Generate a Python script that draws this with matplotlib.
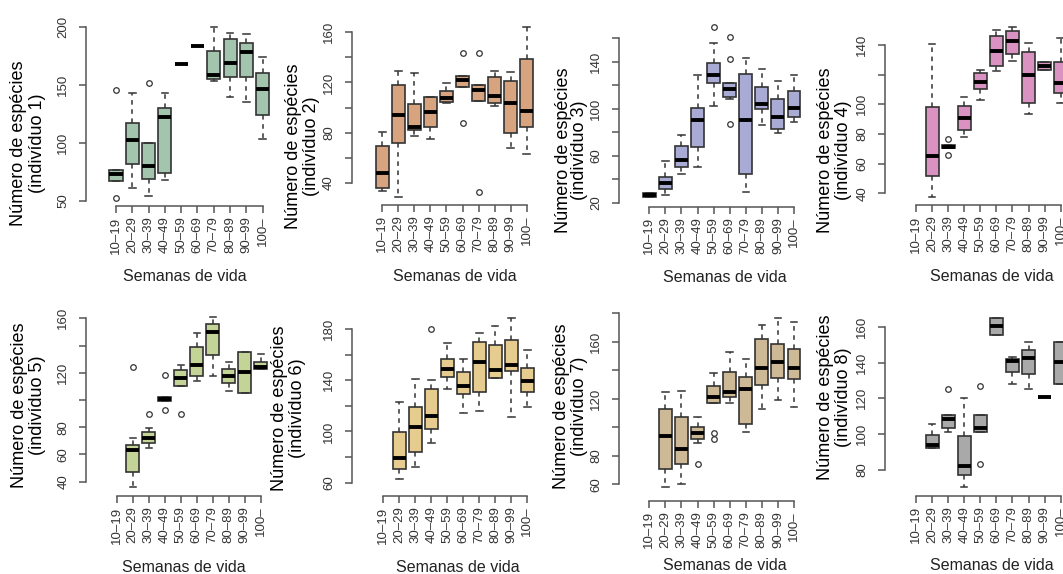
import matplotlib
matplotlib.use("Agg")
import matplotlib.pyplot as plt

plt.rcParams['font.family'] = ['Liberation Sans', 'DejaVu Sans']

semanas = ["10–19", "20–29", "30–39", "40–49", "50–59",
           "60–69", "70–79", "80–89", "90–99", "100–"]
individuos = ["1", "2", "3", "4", "5", "6", "7", "8"]
cores = ["#a3c5ad", "#d8a47f", "#aaabd4", "#d992c1",
         "#c3d496", "#e7cc8f", "#cdb995", "#a9a9a9"]

# estatísticas de cada caixa (None = sem amostras nessa classe)
bigode_inf = [
    [67.5, 60.9, 54.3, 68.1, 168, 183.7, 153.5, 139.8, 135.5, 103],
    [33.3, 28.3, 77.2, 74.6, 103.3, 116.1, 105.2, 101.2, 67.9, 62.6],
    [24.5, 26.5, 44.4, 50.6, 102.3, 108, 29.4, 86.1, 79, 89],
    [None, 37.3, 70.3, 78.2, 102.9, 122.7, 129.2, 93.3, 123.1, 101.1],
    [None, 36.3, 65, 99.3, 110.3, 114.2, 117.9, 106.6, 105.4, 122.5],
    [None, 62.6, 72, 91.2, 133.1, 114.7, 116.2, 142, 111, 119.4],
    [None, 57.9, 60, 89.2, 117.3, 117.3, 96.9, 112.6, 119.1, 114.5],
    [None, 92.1, 101.4, 70.3, 101, 155.3, 128, 125, 120.9, 127.8],
]
quartil1 = [
    [67.5, 81.6, 68.7, 73.8, 168, 183.7, 154.7, 156.4, 156.4, 124],
    [36, 71.9, 82, 84.7, 104.6, 116.1, 105.2, 103.3, 79.4, 84.7],
    [24.5, 31.3, 50.1, 67.7, 122.1, 109.6, 44.4, 99.4, 82.7, 92.6],
    [None, 51.9, 70.3, 82.7, 110.1, 126.1, 133.9, 101.1, 123.1, 107.9],
    [None, 46.8, 68.2, 99.3, 110.3, 117.6, 133.1, 112.2, 105.4, 122.5],
    [None, 70.7, 84.2, 101.9, 142.8, 129.2, 131.1, 142, 147.2, 131.1],
    [None, 70.5, 74, 91.6, 117.3, 121, 102.3, 129.6, 134.8, 133.8],
    [None, 92.1, 103.3, 77.2, 101, 155.3, 134.9, 133.6, 120.9, 127.8],
]
mediana = [
    [73.2, 102.5, 80.1, 122.6, 168, 183.7, 158.4, 169, 177.9, 146.1],
    [48, 94, 84.7, 96.7, 107.3, 121.9, 113.9, 109.2, 103.3, 97.4],
    [26.5, 36.5, 56.3, 90.4, 128.7, 116.5, 90.4, 104, 93.2, 100.9],
    [None, 65.2, 71.5, 91, 115.3, 136, 142.7, 119.8, 126.1, 114.2],
    [None, 63.3, 71.8, 101, 115.9, 125.7, 150.2, 117.6, 120.8, 124],
    [None, 79, 103.7, 112.1, 148.8, 135.8, 154, 148, 151.9, 139.4],
    [None, 93.9, 84.8, 95.8, 121, 125, 126.6, 141.8, 146, 141.3],
    [None, 94, 108.3, 82.4, 103.6, 160.4, 141, 142.3, 120.9, 140.1],
]
quartil3 = [
    [76.7, 116.8, 99.6, 130.3, 168, 183.7, 179.1, 189.1, 185.7, 159.9],
    [69.3, 117.9, 102.8, 108.6, 113.2, 125.1, 117.9, 124.1, 121.1, 138.4],
    [28.5, 42.1, 68.2, 100.9, 138.6, 122.1, 129.5, 118.7, 107.9, 115],
    [None, 98, 72.8, 98.9, 121.3, 146.1, 149.2, 135.5, 128.8, 128.8],
    [None, 66.9, 76.2, 102.4, 122, 138.7, 155.8, 122.5, 135.5, 128.2],
    [None, 99.3, 119.4, 132.9, 156.6, 146.2, 170.1, 167.5, 171.4, 149.8],
    [None, 112.6, 107, 100, 128.9, 139, 135.5, 161.7, 158.2, 154.6],
    [None, 99.5, 110.7, 99, 110.7, 165, 141.8, 147, 120.9, 151.6],
]
bigode_sup = [
    [76.7, 143.2, 99.6, 143.2, 168, 183.7, 199.4, 194.3, 193.7, 173.6],
    [80.2, 129.4, 127.2, 108.6, 119.3, 125.1, 117.9, 129.4, 128.6, 164],
    [28.5, 55.7, 77.6, 128.7, 156.2, 122.1, 142.8, 133.5, 123.8, 128.7],
    [None, 140.7, 72.8, 105.2, 123.1, 150.1, 152.4, 141.1, 128.8, 144.5],
    [None, 72.3, 79.2, 102.4, 125.7, 149, 160.7, 128.2, 135.5, 133.5],
    [None, 122.7, 140.7, 140.2, 168.8, 156.3, 176.6, 182.6, 188.3, 163.6],
    [None, 125, 125.7, 107, 138.3, 153, 147.9, 171.7, 176.4, 174],
    [None, 105.7, 110.7, 120, 110.7, 165, 143.3, 151.6, 120.9, 151.6],
]
outliers = [
    [[145.5, 52.9], [], [151.2], [], [], [], [], [], [], []],
    [[], [], [], [], [], [143.2, 87.3], [143.2, 32.7], [], [], []],
    [[], [], [], [], [169.8], [160.7, 142.3, 87], [], [], [], []],
    [[], [], [76.4, 65.8], [], [], [], [], [], [], []],
    [[], [124.5], [89.5], [118.4, 92.6], [89.5], [], [], [], [], []],
    [[], [], [], [180], [], [], [], [], [], []],
    [[], [], [], [74.3], [95.8, 91.6], [], [], [], [], []],
    [[], [], [125], [], [126.9, 83.3], [], [], [], [], []],
]

yticks = [
    [50, 100, 150, 200],
    [40, 60, 80, 100, 120, 140, 160],
    [20, 40, 60, 80, 100, 120, 140, 160],
    [40, 60, 80, 100, 120, 140],
    [40, 60, 80, 100, 120, 140, 160],
    [60, 80, 100, 120, 140, 160, 180],
    [60, 80, 100, 120, 140, 160, 180],
    [80, 100, 120, 140, 160],
]
ylabels = [
    ["50", "100", "150", "200"],
    ["40", "", "80", "", "120", "", "160"],
    ["20", "", "60", "", "100", "", "140", ""],
    ["40", "60", "80", "100", "", "140"],
    ["40", "60", "80", "", "120", "", "160"],
    ["60", "", "100", "", "140", "", "180"],
    ["60", "80", "", "120", "", "160", ""],
    ["80", "100", "120", "140", "160"],
]

W, H = 1063, 574
fig = plt.figure(figsize=(W / 100, H / 100), dpi=100)

# layout em pixels: x do eixo y, (valor, px) de referência x2, y do eixo x,
# x da primeira e da última classe, topo da área
layout = [
    (86, 200, 26.7, 50, 201, 206, 116, 262.7, 10),
    (351.7, 160, 32.3, 40, 182.7, 204.7, 382.3, 526.7, 10),
    (619, 140, 61.7, 20, 202.7, 206.7, 649.3, 794, 10),
    (885, 140, 45, 40, 193.3, 205, 916, 1060.7, 10),
    (86, 160, 318.3, 40, 481.7, 496, 116.7, 260.7, 300),
    (351.7, 180, 329, 60, 482.7, 496, 383.3, 527.3, 300),
    (619, 160, 341.7, 60, 484.3, 500.7, 649.3, 794, 300),
    (885, 160, 326.7, 80, 470, 495.7, 916, 1060.7, 300),
]
ylab_pos = [(19, 38, 143), (293, 311, 146), (563, 580, 150), (826, 844, 150),
            (20, 38, 405), (279, 297, 408), (562, 580, 406), (826, 844, 397)]
xlab_pos = [(185, 277), (455, 277), (725, 278), (992, 277),
            (184, 567), (458, 567), (725, 565), (992, 565)]

cinza = "#333333"
for k in range(8):
    yx, v1, p1, v2, p2, xy, xa, xb, top = layout[k]
    dx = (xb - xa) / 9
    left = xa - 0.5 * dx
    s = (v1 - v2) / (p2 - p1)
    ylo = v1 - (xy - p1) * s
    yhi = v1 - (top - p1) * s
    ax = fig.add_axes([left / W, 1 - xy / H, 10 * dx / W, (xy - top) / H])
    ax.patch.set_visible(False)

    stats, pos = [], []
    for i in range(10):
        if mediana[k][i] is None:
            continue
        stats.append(dict(whislo=bigode_inf[k][i], q1=quartil1[k][i],
                          med=mediana[k][i], q3=quartil3[k][i],
                          whishi=bigode_sup[k][i], fliers=outliers[k][i]))
        pos.append(i + 1)
    ax.bxp(stats, positions=pos, widths=0.8, capwidths=0.4, patch_artist=True,
           boxprops=dict(facecolor=cores[k], edgecolor=cinza, linewidth=1.2),
           medianprops=dict(color="black", linewidth=2.8, solid_capstyle="butt"),
           whiskerprops=dict(color=cinza, linewidth=1.1, linestyle=(0, (3, 3))),
           capprops=dict(color=cinza, linewidth=1.1),
           flierprops=dict(marker="o", markerfacecolor="none",
                           markeredgecolor=cinza, markersize=4, markeredgewidth=0.9))

    ax.set_xlim(0.5, 10.5)
    ax.set_ylim(ylo, yhi)
    for sp in ["top", "right"]:
        ax.spines[sp].set_visible(False)
    ax.spines["left"].set_position(("outward", (left - yx) * 0.72))
    ax.spines["left"].set_bounds(yticks[k][0], yticks[k][-1])
    ax.spines["bottom"].set_bounds(1, 10)
    for sp in ["left", "bottom"]:
        ax.spines[sp].set_color("#555555")
        ax.spines[sp].set_linewidth(1.1)

    ax.set_xticks(range(1, 11))
    ax.set_xticklabels(semanas, rotation=90)
    ax.set_yticks(yticks[k])
    ax.set_yticklabels(ylabels[k], rotation=90, va="center")
    ax.tick_params(axis="both", length=5, width=1.1, color="#555555",
                   labelsize=9.5, labelcolor="#333333")
    ax.tick_params(axis="x", pad=2.5)
    ax.tick_params(axis="y", pad=7)

    lx1, lx2, ly = ylab_pos[k]
    fig.text(lx1 / W, 1 - ly / H, "Número de espécies", rotation=90,
             ha="center", va="center", fontsize=13)
    fig.text(lx2 / W, 1 - ly / H, "(indivíduo " + individuos[k] + ")", rotation=90,
             ha="center", va="center", fontsize=13)
    tx, ty = xlab_pos[k]
    fig.text(tx / W, 1 - ty / H, "Semanas de vida", ha="center", va="center",
             fontsize=11.5, color="#222222")

fig.savefig("out.png", dpi=100)
